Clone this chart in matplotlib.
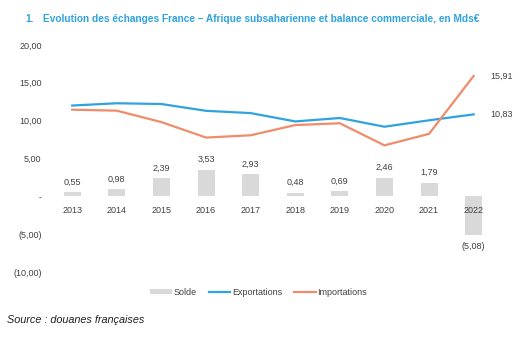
import matplotlib.pyplot as plt
import numpy as np

# Balance commerciale France - Afrique subsaharienne, en Mds€
years = ['2013', '2014', '2015', '2016', '2017', '2018', '2019', '2020', '2021', '2022']
solde = [0.55, 0.98, 2.39, 3.53, 2.93, 0.48, 0.69, 2.46, 1.79, -5.08]
exportations = [12.00, 12.30, 12.20, 11.30, 11.00, 9.90, 10.35, 9.20, 10.05, 10.83]
importations = [11.45, 11.32, 9.81, 7.77, 8.07, 9.42, 9.66, 6.74, 8.26, 15.91]
y_ticks = [-10, -5, 0, 5, 10, 15, 20]

BLUE = '#2fa3df'
ORANGE = '#ef8c69'
GREY = '#d9d9d9'
TEXT = '#404040'
FONT = 'Liberation Sans'


def fmt_fr(v):
    # Excel-style accounting format: "-" for zero, parentheses for negatives
    if v == 0:
        return '-'
    s = f"{abs(v):.2f}".replace('.', ',')
    return f"({s})" if v < 0 else s


fig = plt.figure(figsize=(5.31, 3.38), dpi=100)
ax = fig.add_axes([0.094, 0.195, 0.84, 0.672])
x = np.arange(len(years))

h_bar = ax.bar(x, solde, width=0.38, color=GREY, label='Solde', zorder=1)
h_exp, = ax.plot(x, exportations, color=BLUE, lw=1.6, label='Exportations', zorder=3)
h_imp, = ax.plot(x, importations, color=ORANGE, lw=1.6, label='Importations', zorder=3)

# value labels on bars
for xi, v in zip(x, solde):
    if v >= 0:
        ax.annotate(fmt_fr(v), (xi, v), xytext=(0, 4), textcoords='offset points',
                    ha='center', va='bottom', fontsize=6.5, color=TEXT, family=FONT)
    else:
        ax.annotate(fmt_fr(v), (xi, v), xytext=(0, -5), textcoords='offset points',
                    ha='center', va='top', fontsize=6.5, color=TEXT, family=FONT)

# last values of the two lines
for series in (exportations, importations):
    ax.annotate(fmt_fr(series[-1]), (x[-1], series[-1]), xytext=(12, 0),
                textcoords='offset points', ha='left', va='center',
                fontsize=6.5, color=TEXT, family=FONT)

ax.set_xlim(-0.5, len(years) - 0.5)
ax.set_ylim(-10, 20)
ax.set_yticks(y_ticks)
ax.set_yticklabels([fmt_fr(v) for v in y_ticks], fontsize=6.5, color=TEXT, family=FONT)
ax.set_xticks([])

# year labels sit on the zero line
for xi, yr in zip(x, years):
    ax.annotate(yr, (xi, 0), xytext=(0, -7), textcoords='offset points',
                ha='center', va='top', fontsize=6.5, color=TEXT, family=FONT, zorder=4)

for s in ax.spines.values():
    s.set_visible(False)
ax.tick_params(axis='y', length=0, pad=6)

leg = fig.legend([h_bar, h_exp, h_imp], ['Solde', 'Exportations', 'Importations'],
                 loc='center', bbox_to_anchor=(0.487, 0.135), ncol=3, frameon=False,
                 handlelength=2.4, handleheight=0.35, columnspacing=1.3,
                 handletextpad=0.2, prop={'family': FONT, 'size': 6.5})
for t in leg.get_texts():
    t.set_color(TEXT)

fig.text(0.047, 0.935, '1.', fontsize=7.3, fontweight='bold', color=BLUE, family=FONT)
fig.text(0.081, 0.935, 'Evolution des échanges France – Afrique subsaharienne et balance commerciale, en Mds€',
         fontsize=7.3, fontweight='bold', color=BLUE, family=FONT)
fig.text(0.013, 0.045, 'Source : douanes françaises', fontsize=7.8, style='italic',
         color='#202020', family=FONT)

fig.savefig('out.png', dpi=100)
